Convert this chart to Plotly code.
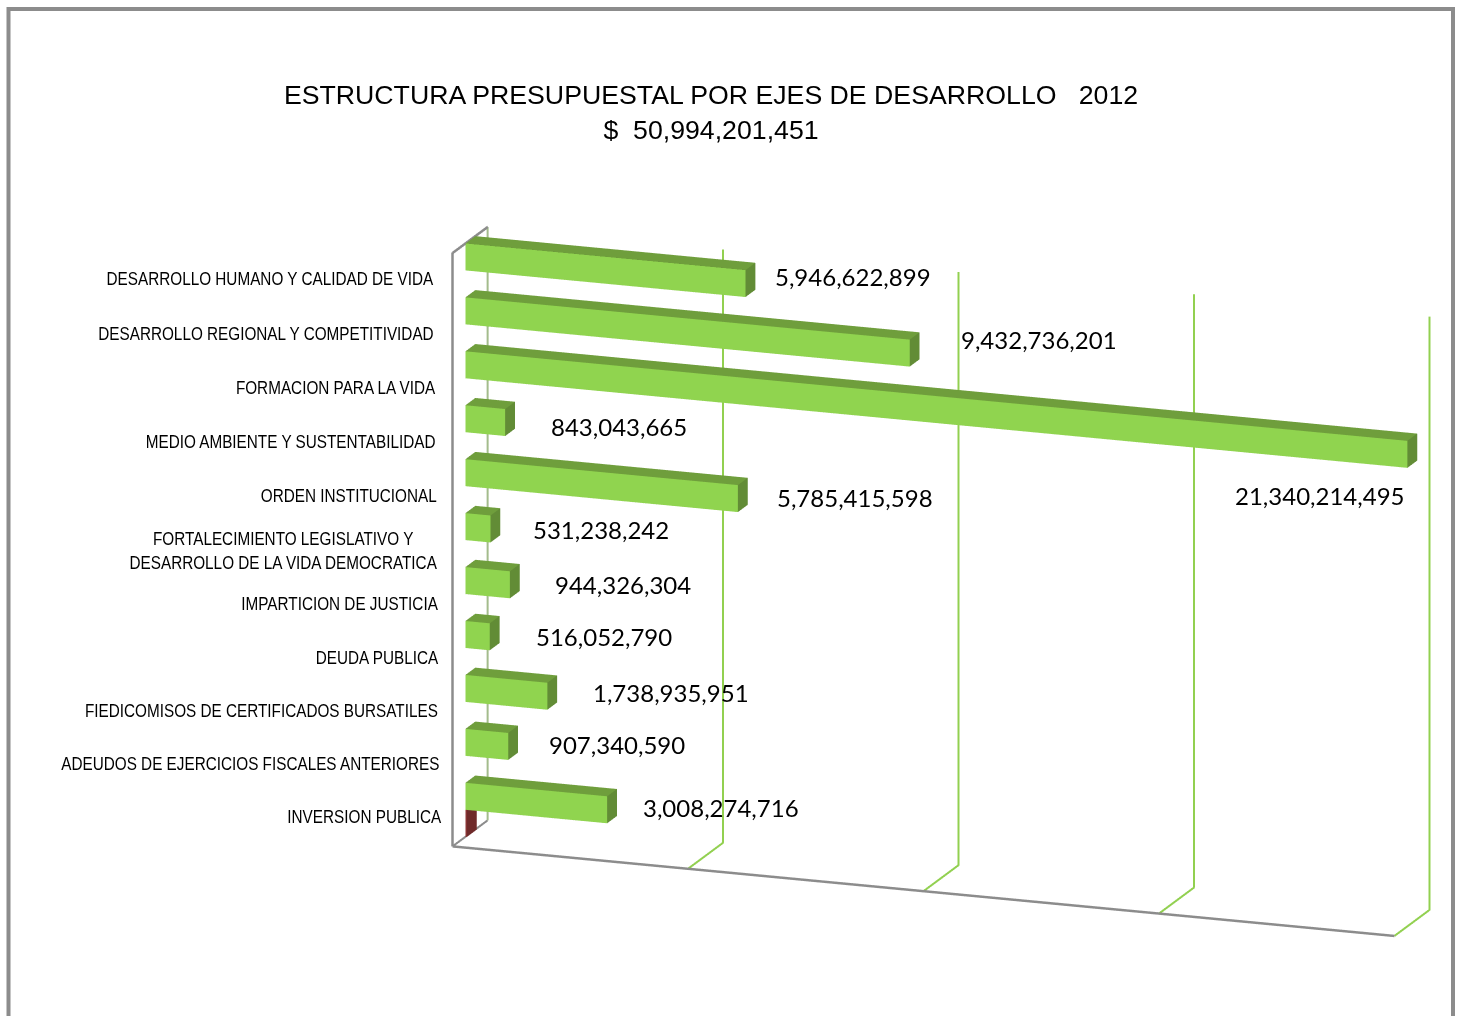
import math
import plotly.graph_objects as go

categories = ["DESARROLLO HUMANO Y CALIDAD DE VIDA", "DESARROLLO REGIONAL Y COMPETITIVIDAD", "FORMACION PARA LA VIDA",
              "MEDIO AMBIENTE Y SUSTENTABILIDAD", "ORDEN INSTITUCIONAL",
              "FORTALECIMIENTO LEGISLATIVO Y<br>DESARROLLO DE LA VIDA DEMOCRATICA", "IMPARTICION DE JUSTICIA",
              "DEUDA PUBLICA", "FIEDICOMISOS DE CERTIFICADOS BURSATILES", "ADEUDOS DE EJERCICIOS FISCALES ANTERIORES",
              "INVERSION PUBLICA"]
budget = [5946622899, 9432736201, 21340214495, 843043665, 5785415598, 531238242, 944326304, 516052790,
          1738935951, 907340590, 3008274716]
second_series = [0, 0, 0, 0, 0, 0, 0, 0, 0, 0, 30000000]
axis_ticks = [0, 5e9, 10e9, 15e9, 20e9]
AXIS_MAX = 20e9
label_pos = [(436.5, 279), (436.5, 333.5), (438, 387.5), (437.5, 441.5), (438.5, 495.5), (438.5, 550), (439.5, 603.5),
             (441, 657.5), (440, 710.5), (441, 763.5), (444.5, 816.5)]
value_pos = [(773, 277), (959, 339), (1233, 495), (549, 427), (775, 497), (531, 529), (553, 584), (534, 636), (591, 692),
             (547, 744), (641, 807)]

W, H = 1462, 1016
GREEN, GREEN_TOP, GREEN_SIDE = "#90D44F", "#6F9E3C", "#628C36"
RED, RED_TOP, RED_SIDE = "#8A3434", "#7A2E2E", "#6F2A2A"
D0, D1 = 0.37, 0.65
n = len(categories)

vx, vy, vz, ti, tj, tk, fc = [], [], [], [], [], [], []
def cuboid(x1, z0, z1, front, top, side):
    b = len(vx)
    for x in (0, x1):
        for y in (D0, D1):
            for z in (z0, z1):
                vx.append(x); vy.append(y); vz.append(z)
    faces = [((0, 4, 5, 1), front), ((2, 6, 7, 3), side), ((1, 5, 7, 3), top), ((0, 4, 6, 2), side),
             ((4, 6, 7, 5), side), ((0, 2, 3, 1), side)]
    for (a, c, d, e), col in faces:
        for t in ((a, c, d), (a, d, e)):
            ti.append(b + t[0]); tj.append(b + t[1]); tk.append(b + t[2]); fc.append(col)

for i, (v, r) in enumerate(zip(budget, second_series)):
    slot = n - 1 - i
    cuboid(min(v, AXIS_MAX), slot + 0.5, slot + 1, GREEN, GREEN_TOP, GREEN_SIDE)
    if r:
        cuboid(r, slot, slot + 0.5, RED, RED_TOP, RED_SIDE)

fig = go.Figure()
lx, ly, lz = [], [], []
for t in axis_ticks[1:]:
    lx += [t, t, t, None]; ly += [0, 1, 1, None]; lz += [0, 0, n, None]
fig.add_trace(go.Scatter3d(x=lx, y=ly, z=lz, mode="lines", line=dict(color="#92D050", width=4), hoverinfo="skip", showlegend=False))
fig.add_trace(go.Scatter3d(x=[0, 0], y=[1, 1], z=[0, n], mode="lines", line=dict(color="#A3BC8C", width=4), hoverinfo="skip", showlegend=False))
fig.add_trace(go.Scatter3d(x=[0, 0, 0, 0, None, 0, AXIS_MAX], y=[1, 1, 0, 0, None, 0, 0], z=[n, n, n, 0, None, 0, 0],
                           mode="lines", line=dict(color="#8C8C8C", width=5), hoverinfo="skip", showlegend=False))
fig.add_trace(go.Scatter3d(x=[0, 0], y=[0, 1], z=[0, 0], mode="lines", line=dict(color="#8C8C8C", width=4), hoverinfo="skip", showlegend=False))
fig.add_trace(go.Mesh3d(x=vx, y=vy, z=vz, i=ti, j=tj, k=tk, facecolor=fc, flatshading=True,
                        lighting=dict(ambient=1, diffuse=0, specular=0, fresnel=0, roughness=1), hoverinfo="skip", showscale=False))

theta, phi = math.radians(19.7), math.radians(15.4)
R = 2.0
eye = dict(x=R * math.cos(phi) * math.sin(theta), y=-R * math.cos(phi) * math.cos(theta), z=R * math.sin(phi))
hidden = dict(visible=False, showgrid=False, zeroline=False, showbackground=False, showspikes=False)
fig.update_layout(
    width=W, height=H, margin=dict(l=0, r=0, t=0, b=0), paper_bgcolor="white", showlegend=False,
    title=dict(text="ESTRUCTURA PRESUPUESTAL POR EJES DE DESARROLLO\u00a0\u00a0 2012<br>$\u00a0 50,994,201,451",
               x=711 / W, xanchor="center", y=1 - 104 / H, yanchor="top",
               font=dict(family="Liberation Sans", size=26.7, color="black")),
    scene=dict(domain=dict(x=[420 / W, 1], y=[0, 868.6 / H]), aspectmode="manual",
               aspectratio=dict(x=2.3026, y=0.2395, z=1.4164),
               camera=dict(eye=eye, center=dict(x=0, y=0, z=0), up=dict(x=0, y=0, z=1), projection=dict(type="orthographic")),
               xaxis=dict(range=[0, AXIS_MAX], **hidden), yaxis=dict(range=[0, 1], **hidden), zaxis=dict(range=[0, n], **hidden),
               bgcolor="rgba(0,0,0,0)", dragmode=False),
    shapes=[dict(type="rect", xref="paper", yref="paper", x0=8.5 / W, x1=1453 / W, y0=-0.05, y1=1 - 9 / H,
                 line=dict(color="#8C8C8C", width=4), layer="below")],
)
for c, (x, y) in zip(categories, label_pos):
    fig.add_annotation(text=c, x=x / W, y=1 - y / H, xref="paper", yref="paper", xanchor="right", yanchor="middle", align="center",
                       showarrow=False, name="cat", font=dict(family="Liberation Sans", size=18.5, color="black"))
for v, (x, y) in zip(budget, value_pos):
    fig.add_annotation(text=f"{v:,}", x=x / W, y=1 - y / H, xref="paper", yref="paper", xanchor="left", yanchor="middle",
                       showarrow=False, font=dict(family="Lato", size=24, color="black"))

# No narrow Arial is installed: the category labels are condensed horizontally around their right edge.
narrow_js = """
document.body.style.margin='0';document.body.style.overflow='hidden';
document.querySelectorAll('.annotation text').forEach(function(t){
  if (!/Liberation/.test(t.style.fontFamily)) return;
  var b=t.getBBox(), r=b.x+b.width, old=t.getAttribute('transform')||'';
  t.setAttribute('transform', old+' translate('+r+',0) scale(0.827,1) translate('+(-r)+',0)');
});
"""
fig.write_html("out.html", config=dict(displayModeBar=False), post_script=narrow_js)
